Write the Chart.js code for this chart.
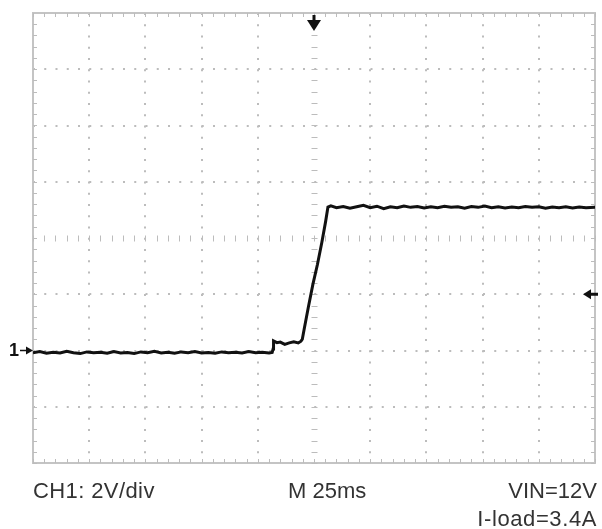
<!DOCTYPE html>
<html>
<head>
<meta charset="utf-8">
<script src="https://cdn.jsdelivr.net/npm/chart.js@4"></script>
<style>
  body { margin: 0; background: #fff; }
  #wrap { position: relative; width: 602px; height: 529px; }
  .cap { position: absolute; font-family: "Liberation Sans", Arial, sans-serif; font-size: 22px; line-height: 22px; color: #333; white-space: nowrap; }
</style>
</head>
<body>
<div id="wrap">
  <canvas id="scope"></canvas>
  <div class="cap" style="left:33px; top:480px; letter-spacing:0.4px;">CH1: 2V/div</div>
  <div class="cap" style="left:288px; top:480px;">M 25ms</div>
  <div class="cap" style="right:5px; top:480px;">VIN=12V</div>
  <div class="cap" style="right:5px; top:508px; letter-spacing:0.6px;">I-load=3.4A</div>
</div>
<script>
// オシロ画面: 横 25ms/div x 10, 縦 2V/div x 8
const TIME_DIV = 25;   // ms
const VOLT_DIV = 2;    // V
const TIME_MIN = -125, TIME_MAX = 125;
const VOLT_MIN = -4, VOLT_MAX = 12;
const TRIGGER_LEVEL = 2; // V (右側の矢印)

// 波形 (時間 ms)
const traceTimes = [
  -125, -122, -119, -116, -113, -110, -107, -104, -101, -98,
  -95, -92, -89, -86, -83, -80, -77, -74, -71, -68,
  -65, -62, -59, -56, -53, -50, -47, -44, -41, -38,
  -35, -32, -29, -26, -23, -20, -18.6,
  -18.2, -18.0, -16.5, -15, -13, -11, -9, -7, -5.8,
  -5.2, -4.4, -2.5, -0.5, 1.5, 3.5, 5.2, 6.2,
  7.5, 10, 13, 16, 19, 22, 25, 28, 31, 34,
  37, 40, 43, 46, 49, 52, 55, 58, 61, 64,
  67, 70, 73, 76, 79, 82, 85, 88, 91, 94,
  97, 100, 103, 106, 109, 112, 115, 118, 121, 125
];
// 波形 (電圧 V)
const traceVolts = [
  -0.08, -0.04, -0.10, -0.06, -0.09, -0.03, -0.08, -0.11, -0.05, -0.08,
  -0.06, -0.10, -0.04, -0.09, -0.07, -0.11, -0.05, -0.08, -0.03, -0.09,
  -0.06, -0.10, -0.05, -0.08, -0.04, -0.09, -0.07, -0.10, -0.05, -0.08,
  -0.06, -0.09, -0.04, -0.08, -0.06, -0.09, -0.07,
  0.05, 0.34, 0.28, 0.30, 0.22, 0.27, 0.31, 0.27, 0.33,
  0.40, 0.75, 1.55, 2.35, 3.05, 3.85, 4.60, 5.10,
  5.14, 5.08, 5.12, 5.06, 5.11, 5.16, 5.08, 5.13, 5.04, 5.11,
  5.08, 5.14, 5.09, 5.12, 5.07, 5.11, 5.08, 5.13, 5.09, 5.11,
  5.06, 5.12, 5.09, 5.14, 5.08, 5.11, 5.07, 5.10, 5.08, 5.12,
  5.09, 5.11, 5.06, 5.10, 5.08, 5.11, 5.07, 5.10, 5.08, 5.09
];

const GRID_COLOR = '#bcbcbc';
const FRAME_COLOR = '#c4c4c4';

// 枠・目盛り・マーカーを描くプラグイン
const reticle = {
  id: 'reticle',
  beforeDatasetsDraw(chart) {
    const { ctx, chartArea: a, scales: { x, y } } = chart;
    ctx.save();
    ctx.strokeStyle = FRAME_COLOR;
    ctx.lineWidth = 2;
    ctx.strokeRect(a.left, a.top, a.right - a.left, a.bottom - a.top);

    ctx.lineWidth = 1;
    ctx.strokeStyle = GRID_COLOR;
    const cx = Math.round(x.getPixelForValue(0)) + 0.5;
    const cy = Math.round(y.getPixelForValue((VOLT_MIN + VOLT_MAX) / 2)) + 0.5;
    ctx.beginPath();
    // 横方向の小目盛り (上下の枠と中央線)
    for (let t = TIME_MIN; t <= TIME_MAX; t += TIME_DIV / 5) {
      const px = Math.round(x.getPixelForValue(t)) + 0.5;
      ctx.moveTo(px, a.top); ctx.lineTo(px, a.top + 4);
      ctx.moveTo(px, a.bottom); ctx.lineTo(px, a.bottom - 4);
      ctx.moveTo(px, cy - 3); ctx.lineTo(px, cy + 3);
    }
    // 縦方向の小目盛り (左右の枠と中央線)
    for (let v = VOLT_MIN; v <= VOLT_MAX; v += VOLT_DIV / 5) {
      const py = Math.round(y.getPixelForValue(v)) + 0.5;
      ctx.moveTo(a.left, py); ctx.lineTo(a.left + 4, py);
      ctx.moveTo(a.right, py); ctx.lineTo(a.right - 4, py);
      ctx.moveTo(cx - 3, py); ctx.lineTo(cx + 3, py);
    }
    ctx.stroke();
    ctx.restore();
  },
  afterDraw(chart) {
    const { ctx, chartArea: a, scales: { x, y } } = chart;
    ctx.save();
    ctx.fillStyle = '#111';
    ctx.strokeStyle = '#111';

    // トリガー位置 (上の下向き矢印)
    const tx = x.getPixelForValue(0);
    ctx.fillRect(tx - 1.5, a.top + 2, 3, 7);
    ctx.beginPath();
    ctx.moveTo(tx - 7, a.top + 7);
    ctx.lineTo(tx + 7, a.top + 7);
    ctx.lineTo(tx, a.top + 18);
    ctx.closePath();
    ctx.fill();

    // トリガーレベル (右の左向き矢印)
    const ty = y.getPixelForValue(TRIGGER_LEVEL);
    ctx.fillRect(a.right - 6, ty - 1.5, 9, 3);
    ctx.beginPath();
    ctx.moveTo(a.right - 12, ty);
    ctx.lineTo(a.right - 4, ty - 5);
    ctx.lineTo(a.right - 4, ty + 5);
    ctx.closePath();
    ctx.fill();

    // CH1 グランド (左の "1→")
    const gy = y.getPixelForValue(0);
    ctx.font = 'bold 18px "Liberation Sans", Arial, sans-serif';
    ctx.textBaseline = 'middle';
    ctx.fillText('1', 9, gy + 1);
    ctx.fillRect(20, gy - 0.75, 8, 1.5);
    ctx.beginPath();
    ctx.moveTo(26, gy - 4);
    ctx.lineTo(33, gy);
    ctx.lineTo(26, gy + 4);
    ctx.closePath();
    ctx.fill();
    ctx.restore();
  }
};

new Chart(document.getElementById('scope'), {
  type: 'line',
  data: {
    datasets: [{
      label: 'CH1',
      data: traceTimes.map((t, i) => ({ x: t, y: traceVolts[i] })),
      borderColor: '#111',
      borderWidth: 3,
      pointRadius: 0,
      tension: 0,
      fill: false
    }]
  },
  options: {
    responsive: true,
    maintainAspectRatio: false,
    animation: false,
    layout: { padding: { top: 13, left: 33, right: 7, bottom: 66 } },
    plugins: { legend: { display: false }, tooltip: { enabled: false } },
    scales: {
      x: {
        type: 'linear',
        min: TIME_MIN, max: TIME_MAX,
        ticks: { display: false, stepSize: TIME_DIV },
        border: { display: false, dash: [2, 9.24] },
        grid: {
          drawTicks: false,
          lineWidth: 2,
          color: c => (c.tick && (c.tick.value === TIME_MIN || c.tick.value === TIME_MAX || c.tick.value === 0)) ? 'rgba(0,0,0,0)' : GRID_COLOR
        }
      },
      y: {
        type: 'linear',
        min: VOLT_MIN, max: VOLT_MAX,
        ticks: { display: false, stepSize: VOLT_DIV },
        border: { display: false, dash: [2, 9.25] },
        grid: {
          drawTicks: false,
          lineWidth: 2,
          color: c => (c.tick && (c.tick.value === VOLT_MIN || c.tick.value === VOLT_MAX || c.tick.value === 4)) ? 'rgba(0,0,0,0)' : GRID_COLOR
        }
      }
    }
  },
  plugins: [reticle]
});
</script>
</body>
</html>
